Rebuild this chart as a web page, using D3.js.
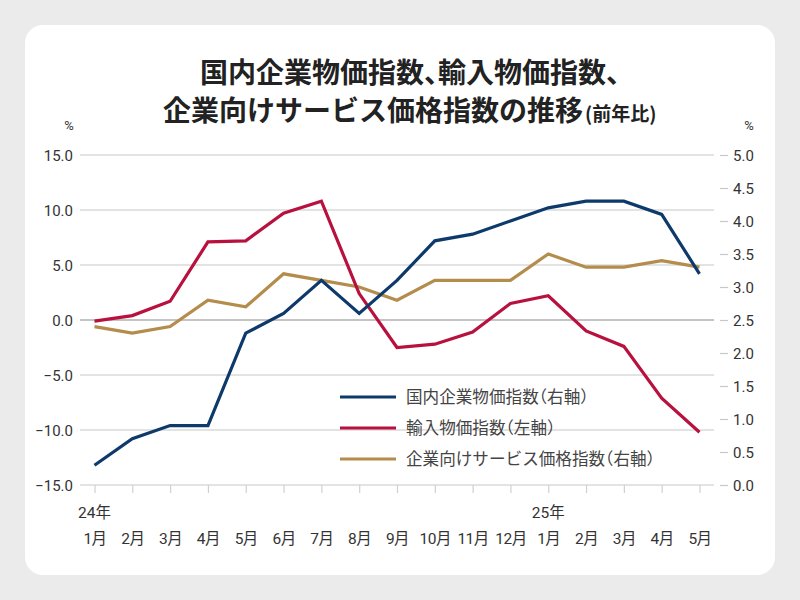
<!DOCTYPE html>
<html><head><meta charset="utf-8">
<script src="https://cdn.jsdelivr.net/npm/d3@7"></script>
<style>
html,body{margin:0;padding:0;background:#ebebeb;}
svg{display:block;}
.halt{font-feature-settings:"halt" 1;}
</style></head>
<body>
<svg id="chart" width="800" height="600"></svg>
<script>
const months = ["1月","2月","3月","4月","5月","6月","7月","8月","9月","10月","11月","12月","1月","2月","3月","4月","5月"];
const yearLabels = [{i:0,label:"24年"},{i:12,label:"25年"}];
const domesticCGPI = [0.3,0.7,0.9,0.9,2.3,2.6,3.1,2.6,3.1,3.7,3.8,4.0,4.2,4.3,4.3,4.1,3.2];
const importPI = [-0.1,0.4,1.7,7.1,7.2,9.7,10.8,2.4,-2.5,-2.2,-1.1,1.5,2.2,-1.0,-2.4,-7.1,-10.2];
const servicesPPI = [2.4,2.3,2.4,2.8,2.7,3.2,3.1,3.0,2.8,3.1,3.1,3.1,3.5,3.3,3.3,3.4,3.3];
const leftTicks = [-15,-10,-5,0,5,10,15];
const rightTicks = [0,0.5,1,1.5,2,2.5,3,3.5,4,4.5,5];
const seriesNames = ["国内企業物価指数（右軸）","輸入物価指数（左軸）","企業向けサービス価格指数（右軸）"];
const titleLine1 = "国内企業物価指数、輸入物価指数、";
const titleLine2 = "企業向けサービス価格指数の推移";
const titleSuffix = "(前年比)";

const svg = d3.select("#chart");
const FONT = "'Noto Sans CJK JP','Noto Sans',sans-serif";
const NUMFONT = "Roboto,'Noto Sans',sans-serif";
const MIXFONT = "Roboto,'Noto Sans CJK JP',sans-serif";

svg.append("rect").attr("x",0).attr("y",0).attr("width",800).attr("height",600).attr("fill","#ebebeb");
svg.append("rect").attr("x",25).attr("y",25).attr("width",750).attr("height",550).attr("rx",18).attr("fill","#ffffff");

// title
svg.append("text").attr("class","halt").attr("x",200).attr("y",83)
  .attr("font-family",FONT).attr("font-weight","bold").attr("font-size",28).attr("fill","#222").text(titleLine1);
const t2 = svg.append("text").attr("x",163).attr("y",121)
  .attr("font-family",FONT).attr("font-weight","bold").attr("fill","#222");
t2.append("tspan").attr("font-size",28).text(titleLine2);
t2.append("tspan").attr("font-size",19).attr("dx",2).text(titleSuffix);

const x = d3.scalePoint().domain(d3.range(months.length)).range([94.5,699.5]);
const yL = d3.scaleLinear().domain([-15,15]).range([485,155]);
const yR = d3.scaleLinear().domain([0,5]).range([485,155]);

// gridlines
svg.append("g").selectAll("line").data(leftTicks).join("line")
  .attr("x1",80).attr("x2",714).attr("y1",d=>yL(d)).attr("y2",d=>yL(d))
  .attr("stroke",d=>d===0?"#c4c4c4":"#dadada").attr("stroke-width",d=>d===0?2:1.5);

// left axis
const leftAxis = d3.axisLeft(yL).tickValues(leftTicks).tickSize(0).tickPadding(0).tickFormat(d3.format(".1f"));
const gL = svg.append("g").attr("transform","translate(73,0)").call(leftAxis);
gL.select(".domain").remove();
gL.selectAll("text").attr("font-family",NUMFONT).attr("font-size",15).attr("fill","#333").attr("dy","0.35em").attr("x",0);

// right axis
const rightAxis = d3.axisRight(yR).tickValues(rightTicks).tickSize(8).tickPadding(5).tickFormat(d3.format(".1f"));
const gR = svg.append("g").attr("transform","translate(720,0)").call(rightAxis);
gR.select(".domain").remove();
gR.selectAll("line").attr("stroke","#c8c8c8").attr("stroke-width",1.2);
gR.selectAll("text").attr("font-family",NUMFONT).attr("font-size",15).attr("fill","#333").attr("dy","0.35em");

// % labels
svg.append("text").attr("x",69).attr("y",130).attr("text-anchor","middle").attr("font-family",NUMFONT).attr("font-size",13).attr("fill","#333").text("%");
svg.append("text").attr("x",749).attr("y",130).attr("text-anchor","middle").attr("font-family",NUMFONT).attr("font-size",13).attr("fill","#333").text("%");

// x axis
const xAxis = d3.axisBottom(x).tickSize(8).tickFormat(i=>months[i]);
const gX = svg.append("g").attr("transform","translate(0,485)").call(xAxis);
gX.select(".domain").remove();
gX.selectAll("line").attr("stroke","#d0d0d0").attr("stroke-width",1.2);
gX.selectAll("text").attr("font-family",MIXFONT).attr("font-size",15.5).attr("fill","#333")
  .attr("letter-spacing",-0.5).attr("y",59).attr("dy",null);
svg.append("g").selectAll("text").data(yearLabels).join("text")
  .attr("x",d=>x(d.i)).attr("y",518).attr("text-anchor","middle")
  .attr("font-family",MIXFONT).attr("font-size",15.5).attr("fill","#333").text(d=>d.label);

// lines
const colors = ["#0e3a6b","#b8113e","#b48c4c"];
const series = [
  {vals:domesticCGPI, y:yR, c:colors[0]},
  {vals:importPI, y:yL, c:colors[1]},
  {vals:servicesPPI, y:yR, c:colors[2]}
];
const drawOrder = [2,1,0];
drawOrder.forEach(k=>{
  const s = series[k];
  const line = d3.line().x((d,i)=>x(i)).y(d=>s.y(d));
  svg.append("path").datum(s.vals).attr("d",line).attr("fill","none")
    .attr("stroke",s.c).attr("stroke-width",3.2).attr("stroke-linejoin","miter");
});

// legend
const lg = svg.append("g");
seriesNames.forEach((n,k)=>{
  const yy = 397 + k*31;
  lg.append("line").attr("x1",340).attr("x2",396).attr("y1",yy).attr("y2",yy).attr("stroke",colors[k]).attr("stroke-width",3.2);
  lg.append("text").attr("class","halt").attr("x",406).attr("y",yy).attr("dy","0.35em")
    .attr("font-family",FONT).attr("font-size",16.6).attr("fill","#444").text(n);
});
</script>
</body></html>
